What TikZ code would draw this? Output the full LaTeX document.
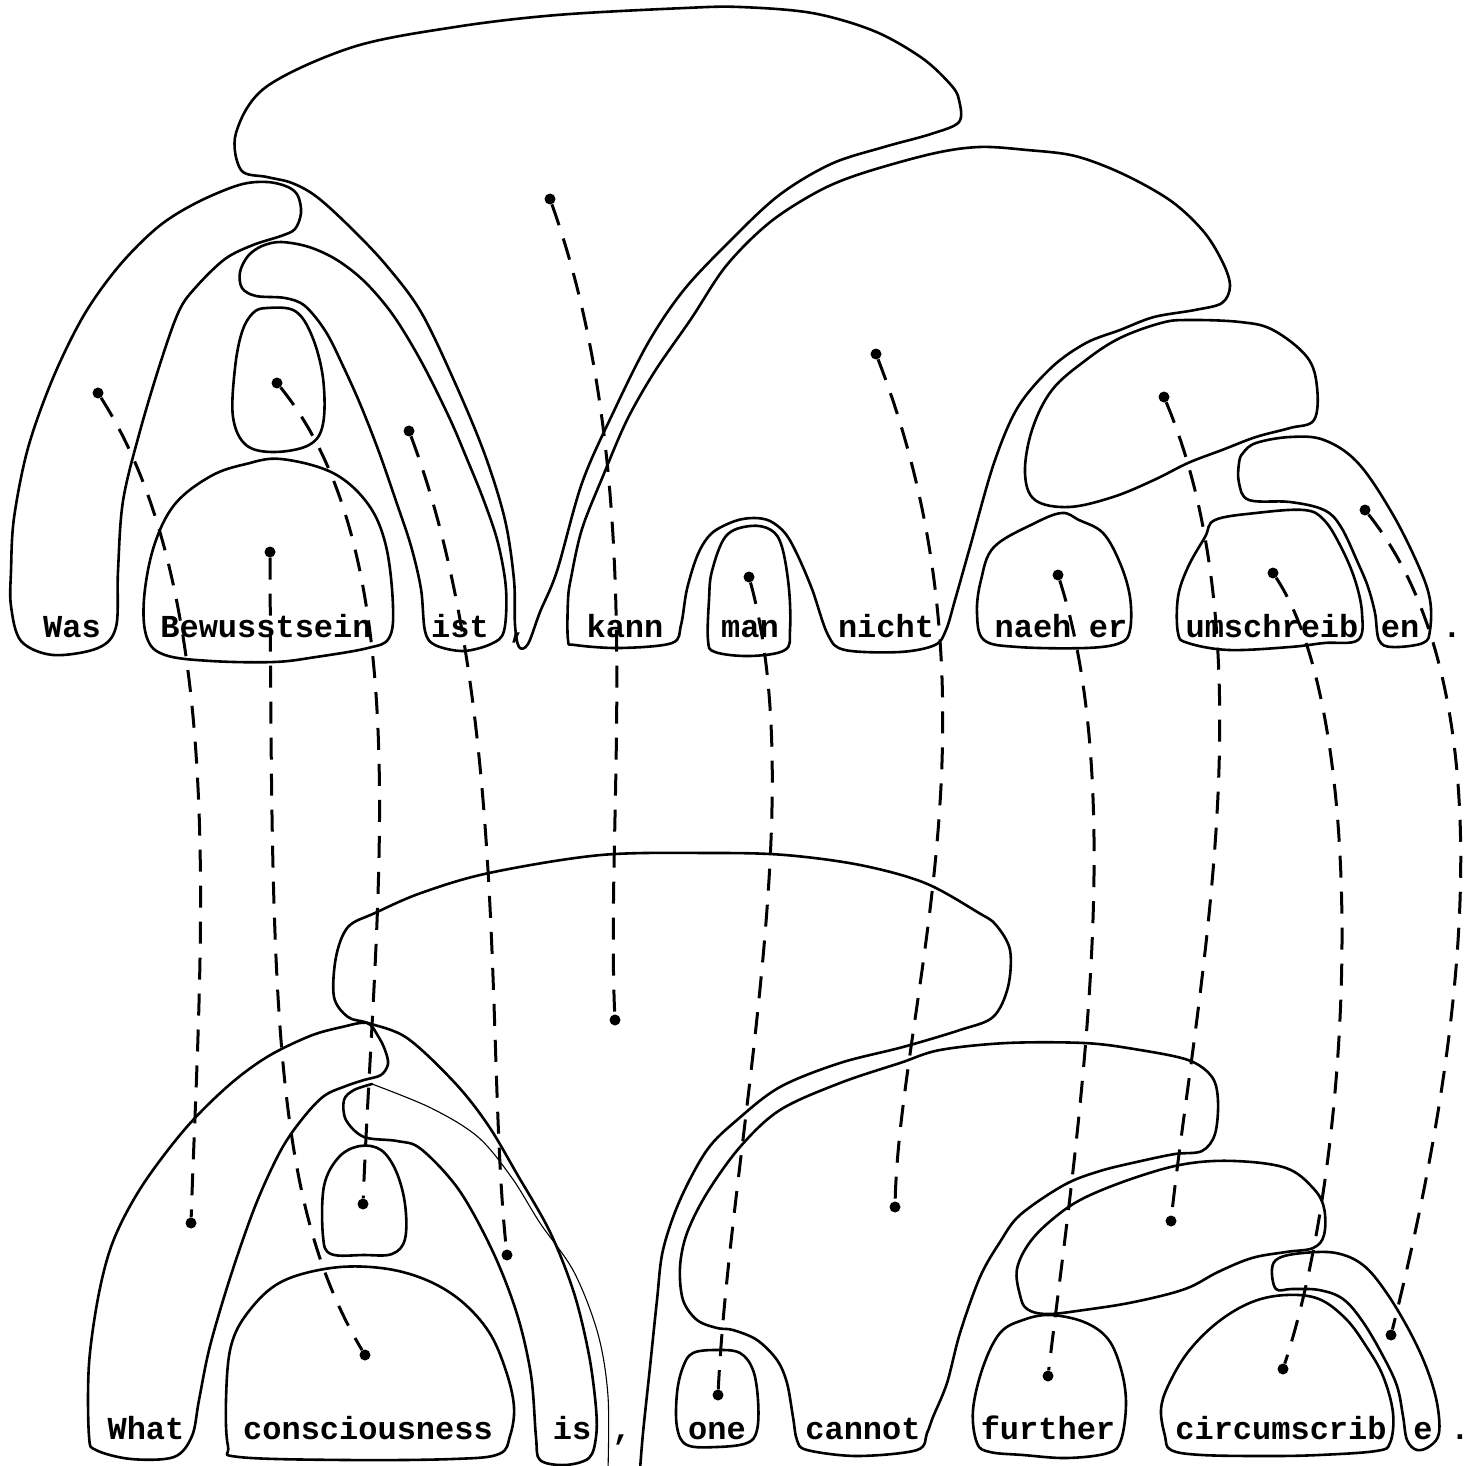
\documentclass[tikz,border=0pt]{standalone}
\usepackage{fontspec}
\newfontfamily\wordfont{Liberation Mono}[BoldFont={Liberation Mono Bold}]
\begin{document}
\begin{tikzpicture}[x=1pt,y=-1pt,
  blob/.style={line width=2.6pt, line join=round, line cap=round},
  faint/.style={line width=1.1pt, line cap=round},
  conn/.style={line width=3pt, dash pattern=on 22pt off 14pt},
  dotn/.style={circle, fill, inner sep=0pt, minimum size=11pt},
  word/.style={anchor=base, inner sep=0pt, font={\wordfont\bfseries\fontsize{32}{38}\selectfont}}]
\useasboundingbox (0,0) rectangle (1484,1466);

% ================= TOP SENTENCE: shapes =================
% root (cloud + band down to the comma)
\draw[blob] plot[smooth cycle, tension=0.55] coordinates {
 (241,170) (267,177) (292,183) (317,197) (351,228) (386,265) (421,312) (456,385)
 (485,455) (505,520) (514,580) (515,625) (519,647) (528,644) (540,612) (557,571)
 (582,483) (613,413) (648,343) (683,291) (726,245) (778,196) (831,164) (884,147)
 (931,134) (959,122) (959,100) (951,85) (922,58) (874,31) (812,13) (740,7) (685,8)
 (557,15) (455,27) (353,47) (266,87) (236,133)};
% Was arch
\draw[blob] plot[smooth cycle, tension=0.55] coordinates {
 (11,606) (21,641) (53,655) (98,648) (116,627) (118,571) (123,501) (140,431)
 (161,361) (179,311) (196,287) (225,259) (253,245) (281,236) (295,229) (301,213)
 (298,196) (288,187) (267,182) (239,185) (196,203) (158,227) (119,266) (84,315)
 (53,378) (28,448) (14,518) (11,571)};
% ist arch
\draw[blob] plot[smooth cycle, tension=0.55] coordinates {
 (281,242) (262,246) (248,256) (240,272) (242,288) (256,296) (285,298) (305,306)
 (326,332) (344,368) (361,406) (379,452) (396,501) (411,546) (421,589) (425,631)
 (435,645) (463,651) (491,644) (504,631) (506,589) (498,543) (484,501) (467,459)
 (449,417) (421,361) (393,315) (365,282) (337,260) (309,247)};
% small blob (Bewusstsein)
\draw[blob] plot[smooth cycle, tension=0.6] coordinates {
 (267,308) (295,311) (312,336) (323,378) (323,424) (309,445) (274,452) (246,445)
 (233,417) (235,368) (242,332) (253,313)};
% Bewusstsein box
\draw[blob] plot[smooth cycle, tension=0.6] coordinates {
 (246,464) (281,459) (333,473) (368,504) (386,546) (393,606) (389,638) (368,648)
 (316,657) (274,662) (211,661) (165,655) (147,638) (144,599) (154,546) (175,504)
 (211,476)};
% kann ... nicht arch
\draw[blob] plot[smooth cycle, tension=0.55] coordinates {
 (568,640) (568,600) (571,578) (582,529) (603,476) (627,420) (655,371) (691,319)
 (726,266) (769,223) (817,192) (860,174) (931,154) (979,147) (1027,150) (1075,156)
 (1123,174) (1171,201) (1204,232) (1223,263) (1230,286) (1222,303) (1195,310)
 (1154,317) (1120,330) (1086,343) (1052,367) (1018,407) (994,463) (970,547)
 (955,600) (946,630) (935,645) (900,652) (845,650) (828,635) (812,589) (797,554)
 (785,533) (770,521) (754,518) (735,521) (712,533) (698,554) (687,589) (681,625)
 (672,643) (620,648) (575,645)};
% man box
\draw[blob] plot[smooth cycle, tension=0.6] coordinates {
 (708,640) (709,600) (712,571) (726,536) (750,526) (771,530) (782,547) (789,589)
 (790,630) (785,650) (750,656) (715,652)};
% naeh er box
\draw[blob] plot[smooth cycle, tension=0.6] coordinates {
 (1062,513) (1079,520) (1103,533) (1120,563) (1130,597) (1130,630) (1120,643)
 (1086,648) (1018,647) (984,640) (977,613) (981,580) (994,547) (1035,523)};
% upper blob (naeh er umschreiben)
\draw[blob] plot[smooth cycle, tension=0.6] coordinates {
 (1188,320) (1240,322) (1273,330) (1307,357) (1317,387) (1314,420) (1290,428)
 (1256,437) (1222,450) (1188,463) (1154,480) (1113,497) (1069,507) (1035,500)
 (1025,473) (1032,430) (1052,390) (1086,360) (1120,338) (1161,323)};
% en arch
\draw[blob] plot[smooth cycle, tension=0.6] coordinates {
 (1243,453) (1256,443) (1290,437) (1324,440) (1358,463) (1392,513) (1419,567)
 (1430,600) (1430,630) (1423,643) (1392,647) (1379,640) (1375,613) (1368,587)
 (1358,563) (1341,527) (1324,510) (1290,502) (1249,500) (1239,483) (1239,463)};
% umschreib box
\draw[blob] plot[smooth cycle, tension=0.6] coordinates {
 (1215,520) (1256,513) (1304,510) (1324,520) (1341,547) (1355,580) (1362,613)
 (1358,640) (1324,643) (1290,647) (1229,650) (1188,643) (1178,633) (1178,597)
 (1188,567) (1205,537)};

% ================= BOTTOM SENTENCE: shapes =================
% What arch
\draw[blob] plot[smooth cycle, tension=0.55] coordinates {
 (89,1436) (89,1364) (99,1293) (114,1239) (142,1186) (185,1129) (228,1086)
 (267,1057) (310,1036) (342,1027) (367,1023) (378,1036) (385,1050) (388,1064)
 (381,1075) (364,1080) (346,1086) (324,1096) (303,1118) (281,1150) (256,1204)
 (231,1275) (210,1346) (199,1400) (192,1436) (174,1457) (131,1459) (96,1450)};
% root (cloud) with is-box and S-curve
\draw[blob] plot[smooth, tension=0.55] coordinates {
 (640,1470) (643,1433) (650,1367) (657,1300) (663,1250) (680,1200) (707,1150)
 (737,1120) (780,1087) (840,1063) (903,1047) (960,1030) (993,1017) (1008,987)
 (1010,950) (996,925) (979,913) (925,883) (860,865) (785,855) (712,853) (601,855)
 (489,873) (421,893) (375,913) (348,927) (336,957) (334,997) (348,1017) (368,1023)
 (407,1038) (455,1083) (488,1125) (517,1174) (550,1232) (574,1293) (589,1355)
 (596,1408) (596,1437) (589,1458) (565,1465) (540,1460) (536,1437) (531,1375)
 (517,1314) (493,1252) (459,1190) (421,1149) (397,1141) (364,1137) (346,1120)
 (344,1100) (354,1090) (372,1084)};
\draw[faint] plot[smooth, tension=0.55] coordinates {
 (372,1084) (431,1108) (478,1137) (512,1178) (540,1223) (574,1272) (598,1334)
 (608,1396) (608,1470)};
% small blob (consciousness)
\draw[blob] plot[smooth cycle, tension=0.6] coordinates {
 (360,1146) (381,1150) (396,1171) (405,1204) (405,1239) (392,1254) (364,1255)
 (331,1254) (323,1236) (324,1186) (339,1157)};
% consciousness box
\draw[blob] plot[smooth cycle, tension=0.6] coordinates {
 (228,1446) (226,1400) (231,1346) (249,1311) (281,1282) (331,1268) (381,1268)
 (424,1279) (460,1300) (489,1332) (506,1371) (514,1407) (510,1436) (499,1454)
 (453,1459) (346,1460) (239,1457)};
% one ... cannot arch
\draw[blob] plot[smooth cycle, tension=0.55] coordinates {
 (807,1450) (797,1440) (793,1417) (787,1383) (777,1360) (757,1340) (733,1330)
 (717,1328) (697,1320) (683,1300) (680,1267) (687,1233) (707,1193) (740,1147)
 (780,1110) (840,1083) (900,1063) (940,1050) (1007,1043) (1084,1043) (1134,1049)
 (1188,1060) (1212,1077) (1218,1101) (1215,1134) (1202,1151) (1175,1154)
 (1141,1161) (1100,1171) (1064,1185) (1020,1215) (1000,1242) (980,1277) (960,1333)
 (947,1383) (933,1417) (927,1433) (917,1450) (857,1456)};
% one box
\draw[blob] plot[smooth cycle, tension=0.6] coordinates {
 (683,1367) (693,1353) (717,1350) (740,1353) (753,1370) (758,1400) (757,1430)
 (747,1443) (717,1447) (687,1445) (677,1427) (677,1393)};
% upper blob (further circumscribe)
\draw[blob] plot[smooth cycle, tension=0.6] coordinates {
 (1020,1295) (1017,1269) (1030,1242) (1054,1218) (1084,1198) (1134,1178)
 (1185,1164) (1235,1161) (1286,1168) (1313,1188) (1324,1208) (1324,1235)
 (1313,1248) (1286,1252) (1252,1258) (1218,1272) (1185,1289) (1134,1302)
 (1084,1310) (1047,1314) (1027,1309)};
% further box
\draw[blob] plot[smooth cycle, tension=0.6] coordinates {
 (1050,1315) (1084,1322) (1108,1339) (1121,1369) (1126,1403) (1121,1440)
 (1108,1453) (1067,1458) (1023,1455) (990,1452) (977,1443) (973,1410) (983,1367)
 (1000,1333) (1023,1320)};
% circumscrib box
\draw[blob] plot[smooth cycle, tension=0.6] coordinates {
 (1165,1436) (1161,1410) (1168,1386) (1188,1352) (1218,1322) (1252,1302)
 (1286,1295) (1319,1299) (1346,1319) (1366,1346) (1383,1376) (1393,1413)
 (1390,1443) (1376,1451) (1319,1455) (1269,1456) (1202,1455) (1171,1450)};
% e arch
\draw[blob] plot[smooth cycle, tension=0.6] coordinates {
 (1276,1289) (1272,1269) (1279,1258) (1303,1253) (1336,1253) (1363,1265)
 (1386,1292) (1410,1332) (1427,1369) (1437,1403) (1439,1433) (1430,1446)
 (1417,1450) (1407,1440) (1403,1416) (1397,1386) (1383,1356) (1363,1322)
 (1343,1299) (1319,1290) (1292,1289)};

% ================= words =================
\node[word] (wWas) at (72,637) {Was};
\node[word] (wBew) at (266,637) {Bewusstsein};
\node[word] (wist) at (460,637) {ist};
\node[word] (wc1) at (518,637) {,};
\node[word] (wkann) at (625,637) {kann};
\node[word] (wman) at (750,637) {man};
\node[word] (wnicht) at (886,637) {nicht};
\node[word] (wnaeh) at (1033,637) {naeh};
\node[word] (wer) at (1108,637) {er};
\node[word] (wumschreib) at (1272,637) {umschreib};
\node[word] (wen) at (1400,637) {en};
\node[word] (wp1) at (1452,637) {.};

\node[word] (wWhat) at (146,1439) {What};
\node[word] (wcons) at (368,1439) {consciousness};
\node[word] (wis) at (572,1439) {is};
\node[word] (wc2) at (622,1439) {,};
\node[word] (wone) at (717,1439) {one};
\node[word] (wcannot) at (863,1439) {cannot};
\node[word] (wfurther) at (1048,1439) {further};
\node[word] (wcirc) at (1281,1439) {circumscrib};
\node[word] (we) at (1423,1439) {e};
\node[word] (wp2) at (1460,1439) {.};

% ================= dots =================
\node[dotn] (tWas) at (98,393) {};
\node[dotn] (tBs) at (277,383) {};
\node[dotn] (tB) at (270,552) {};
\node[dotn] (tist) at (409,431) {};
\node[dotn] (troot) at (550,199) {};
\node[dotn] (tVP) at (876,354) {};
\node[dotn] (tman) at (749,577) {};
\node[dotn] (tnaeher) at (1058,575) {};
\node[dotn] (tupper) at (1164,397) {};
\node[dotn] (tumschr) at (1273,573) {};
\node[dotn] (ten) at (1365,510) {};

\node[dotn] (bWhat) at (191,1223) {};
\node[dotn] (bsmall) at (363,1204) {};
\node[dotn] (bcons) at (365,1355) {};
\node[dotn] (bis) at (507,1255) {};
\node[dotn] (broot) at (615,1020) {};
\node[dotn] (bone) at (718,1395) {};
\node[dotn] (bVP) at (895,1207) {};
\node[dotn] (bfurther) at (1048,1376) {};
\node[dotn] (bupper) at (1171,1221) {};
\node[dotn] (bcirc) at (1283,1369) {};
\node[dotn] (be) at (1391,1335) {};

% ================= connectors =================
\draw[conn] (tWas) .. controls (230,600) and (200,950) .. (bWhat);
\draw[conn] (tBs) .. controls (420,560) and (375,900) .. (bsmall);
\draw[conn] (tB) .. controls (272,1000) and (272,1200) .. (bcons);
\draw[conn] (tist) .. controls (510,700) and (485,1050) .. (bis);
\draw[conn] (troot) .. controls (650,480) and (605,800) .. (broot);
\draw[conn] (tman) .. controls (810,800) and (730,1150) .. (bone);
\draw[conn] (tVP) .. controls (1010,700) and (900,1000) .. (bVP);
\draw[conn] (tnaeher) .. controls (1130,800) and (1075,1150) .. (bfurther);
\draw[conn] (tupper) .. controls (1270,650) and (1195,1000) .. (bupper);
\draw[conn] (tumschr) .. controls (1370,720) and (1355,1150) .. (bcirc);
\draw[conn] (ten) .. controls (1500,680) and (1475,1000) .. (be);
\end{tikzpicture}
\end{document}
